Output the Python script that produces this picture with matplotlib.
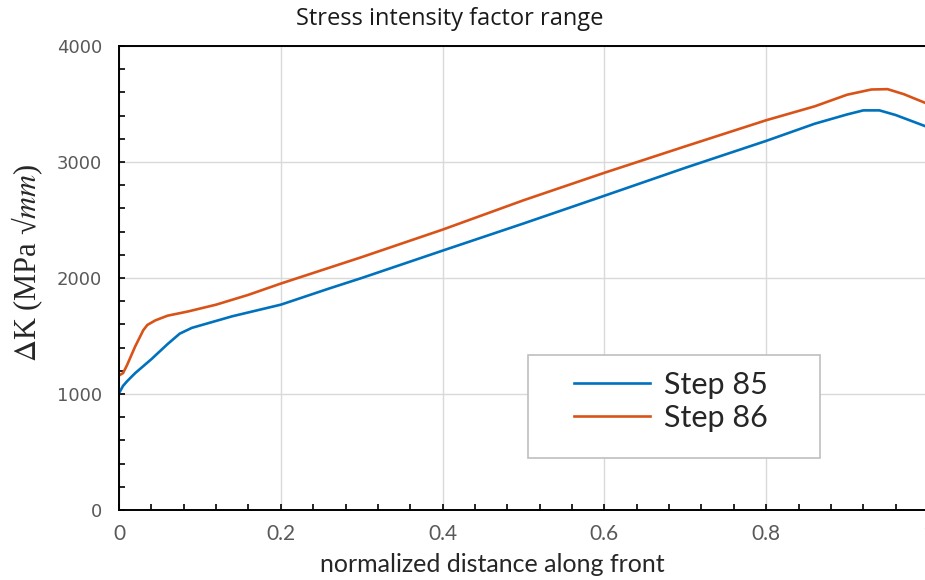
import numpy as np
import matplotlib
matplotlib.use("Agg")
import matplotlib.pyplot as plt
from matplotlib.patches import Rectangle
from matplotlib.ticker import MultipleLocator

# values
x85 = [0, 0.005, 0.01, 0.02, 0.04, 0.06, 0.075, 0.09, 0.11, 0.14, 0.2, 0.26,
       0.3, 0.4, 0.5, 0.6, 0.7, 0.8, 0.86, 0.9, 0.92, 0.94, 0.96, 1.0]
k85 = [1006, 1070, 1110, 1180, 1300, 1430, 1520, 1570, 1610, 1670, 1770, 1910,
       2000, 2236, 2470, 2709, 2950, 3182, 3330, 3410, 3445, 3445, 3405, 3300]
x86 = [0, 0.005, 0.01, 0.02, 0.03, 0.035, 0.045, 0.06, 0.085, 0.12, 0.16, 0.2,
       0.3, 0.4, 0.5, 0.6, 0.7, 0.8, 0.86, 0.9, 0.93, 0.95, 0.97, 1.0]
k86 = [1160, 1180, 1250, 1410, 1550, 1595, 1635, 1675, 1711, 1770, 1855, 1952,
       2180, 2417, 2670, 2907, 3135, 3360, 3480, 3580, 3625, 3628, 3585, 3500]
labels = ["Step 85", "Step 86"]

plt.rcParams["mathtext.fontset"] = "stix"

W, H = 925, 580
fig = plt.figure(figsize=(W / 100, H / 100), dpi=100)
ax = fig.add_axes([119 / W, 1 - 510 / H, 809 / W, 464 / H])

ax.plot(x85, k85, color="#0072BD", lw=1.9, label=labels[0])
ax.plot(x86, k86, color="#D95319", lw=1.9, label=labels[1])

ax.set_xlim(0, 1)
ax.set_ylim(0, 4000)
ax.xaxis.set_minor_locator(MultipleLocator(0.04))
ax.yaxis.set_major_locator(MultipleLocator(1000))
ax.yaxis.set_minor_locator(MultipleLocator(200))
ax.set_xticks([0, 0.2, 0.4, 0.6, 0.8, 1.0])
ax.set_xticklabels(["0", "0.2", "0.4", "0.6", "0.8", "1"])
ax.grid(True, which="major", color="#d9d9d9", lw=1)
ax.set_axisbelow(True)
ax.tick_params(which="both", direction="in", length=4.5, width=1.2, color="black")
ax.tick_params(axis="y", labelsize=13, labelcolor="#595959", pad=12)
ax.tick_params(axis="x", labelsize=15, labelcolor="#595959", pad=10)
for lab in ax.get_xticklabels():
    lab.set_fontfamily("Lato")
for sp in ax.spines.values():
    sp.set_linewidth(1.4)

fig.text(450 / W, 1 - 19 / H, "Stress intensity factor range",
         ha="center", va="center", fontsize=17, family="Open Sans",
         color="#1a1a1a")
fig.text(492 / W, 1 - 565 / H, "normalized distance along front",
         ha="center", va="center", fontsize=18, family="Lato", color="#262626")
fig.text(27 / W, 1 - 263 / H,
         r"$\mathit{\Delta}$K (MPa √$\mathit{mm}$)",
         ha="center", va="center", rotation=90, fontsize=22,
         family="Liberation Serif", color="#262626")

# legend frame drawn on its own so the padding can match the reference box
ax.add_patch(Rectangle((528 / W, 1 - 458 / H), 292 / W, 103 / H,
                       transform=fig.transFigure, facecolor="white",
                       edgecolor="#bfbfbf", lw=1.2, zorder=5))
leg = ax.legend(loc="upper left", bbox_to_anchor=(574 / W, 1 - 371 / H),
                bbox_transform=fig.transFigure, frameon=False,
                borderpad=0, borderaxespad=0,
                handlelength=2.5, handletextpad=0.43, labelspacing=0.15,
                prop={"family": "Lato", "size": 22})
leg.set_zorder(6)
for t in leg.get_texts():
    t.set_color("#262626")

fig.savefig("out.png", dpi=100)
